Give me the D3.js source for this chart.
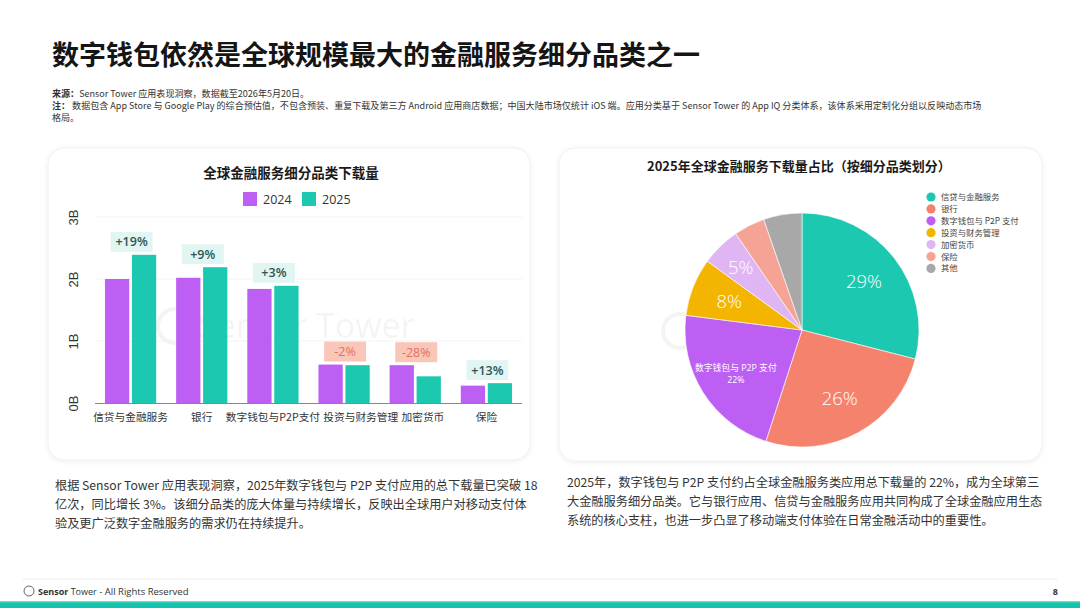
<!DOCTYPE html>
<html>
<head>
<meta charset="utf-8">
<script src="https://cdn.jsdelivr.net/npm/d3@7"></script>
<style>
  html, body { margin: 0; padding: 0; background: #fff; }
  svg { display: block; font-family: "Open Sans", "Noto Sans CJK SC", sans-serif; }
</style>
</head>
<body>
<svg id="page" width="1080" height="608"></svg>
<script>
// ---- data ----
const categories = ['信贷与金融服务', '银行', '数字钱包与P2P支付', '投资与财务管理', '加密货币', '保险'];
const years = ['2024', '2025'];
const downloads2024 = [2.00, 2.02, 1.84, 0.62, 0.61, 0.28];   // billions
const downloads2025 = [2.39, 2.19, 1.89, 0.61, 0.43, 0.32];
const changeLabels = ['+19%', '+9%', '+3%', '-2%', '-28%', '+13%'];
const yTicks = [0, 1, 2, 3];

const pieCategories = ['信贷与金融服务', '银行', '数字钱包与 P2P 支付', '投资与财务管理', '加密货币', '保险', '其他'];
const pieShares = [29, 26, 22, 8, 5.4, 4.3, 5.3];
const pieLabels = ['29%', '26%', '22%', '8%', '5%', '', ''];

const leftText = [
  '根据 Sensor Tower 应用表现洞察，2025年数字钱包与 P2P 支付应用的总下载量已突破 18',
  '亿次，同比增长 3%。该细分品类的庞大体量与持续增长，反映出全球用户对移动支付体',
  '验及更广泛数字金融服务的需求仍在持续提升。'
];
const rightText = [
  '2025年，数字钱包与 P2P 支付约占全球金融服务类应用总下载量的 22%，成为全球第三',
  '大金融服务细分品类。它与银行应用、信贷与金融服务应用共同构成了全球金融应用生态',
  '系统的核心支柱，也进一步凸显了移动端支付体验在日常金融活动中的重要性。'
];

const purple = '#bd5ff3', teal = '#1cc8b0';
const pieColors = [teal, '#f5826d', purple, '#f3b500', '#dfb6f3', '#f4a394', '#a8a8a8'];

const svg = d3.select('#page');

// shadow for cards
const defs = svg.append('defs');
const f = defs.append('filter').attr('id', 'shadow').attr('x', '-10%').attr('y', '-10%').attr('width', '120%').attr('height', '120%');
f.append('feDropShadow').attr('dx', 0).attr('dy', 1).attr('stdDeviation', 2.5).attr('flood-color', '#000').attr('flood-opacity', 0.07);

// ---- header ----
svg.append('text').attr('x', 52).attr('y', 65)
  .attr('font-size', 27).attr('font-weight', 700).attr('fill', '#151515')
  .attr('font-family', '"Noto Sans CJK SC", sans-serif')
  .text('数字钱包依然是全球规模最大的金融服务细分品类之一');

const src = svg.append('g').attr('font-size', 9.05).attr('fill', '#333')
  .attr('font-family', '"Noto Sans CJK SC", sans-serif');
let t = src.append('text').attr('x', 52).attr('y', 97);
t.append('tspan').attr('font-weight', 700).text('来源：');
t.append('tspan').text('Sensor Tower 应用表现洞察，数据截至2026年5月20日。');
t = src.append('text').attr('x', 52).attr('y', 109);
t.append('tspan').attr('font-weight', 700).text('注：');
t.append('tspan').text(' 数据包含 App Store 与 Google Play 的综合预估值，不包含预装、重复下载及第三方 Android 应用商店数据；中国大陆市场仅统计 iOS 端。应用分类基于 Sensor Tower 的 App IQ 分类体系，该体系采用定制化分组以反映动态市场');
src.append('text').attr('x', 52).attr('y', 121).text('格局。');

// ---- cards ----
svg.append('rect').attr('x', 48).attr('y', 148).attr('width', 482).attr('height', 312).attr('rx', 16)
  .attr('fill', '#fff').attr('stroke', '#efefef').attr('filter', 'url(#shadow)');
svg.append('rect').attr('x', 559).attr('y', 148).attr('width', 483).attr('height', 313).attr('rx', 16)
  .attr('fill', '#fff').attr('stroke', '#efefef').attr('filter', 'url(#shadow)');

// watermarks
function watermark(cx, cy) {
  const g = svg.append('g').attr('opacity', 0.04);
  g.append('circle').attr('cx', cx - 95).attr('cy', cy - 4).attr('r', 17)
    .attr('fill', 'none').attr('stroke', '#000').attr('stroke-width', 4);
  g.append('text').attr('x', cx - 72).attr('y', cy + 8).attr('font-size', 34).attr('fill', '#000')
    .text('Sensor Tower');
}
watermark(270, 330);
watermark(775, 335);

// ---- bar chart ----
svg.append('text').attr('x', 291).attr('y', 178).attr('text-anchor', 'middle')
  .attr('font-size', 13.5).attr('font-weight', 700).attr('fill', '#1a1a1a')
  .attr('font-family', '"Noto Sans CJK SC", sans-serif')
  .text('全球金融服务细分品类下载量');

const legend = svg.append('g');
[purple, teal].forEach((c, i) => {
  const lx = 243 + i * 59;
  legend.append('rect').attr('x', lx).attr('y', 192).attr('width', 14).attr('height', 14).attr('fill', c);
  legend.append('text').attr('x', lx + 20).attr('y', 204).attr('font-size', 12.5).attr('fill', '#333').text(years[i]);
});

const x0 = d3.scaleBand().domain(categories).range([95, 522]).paddingInner(0.28).paddingOuter(0.14);
const x1 = d3.scaleBand().domain(years).range([0, x0.bandwidth()]).paddingInner(0.1);
const y = d3.scaleLinear().domain([0, 3]).range([403, 217]);

// gridlines
svg.append('g').selectAll('line').data(yTicks.slice(1)).join('line')
  .attr('x1', 95).attr('x2', 522).attr('y1', d => y(d)).attr('y2', d => y(d))
  .attr('stroke', '#f3f3f3');

const yAxis = svg.append('g').attr('transform', 'translate(95,0)')
  .call(d3.axisLeft(y).tickValues(yTicks).tickSize(0).tickFormat(d => d + 'B'));
yAxis.select('.domain').remove();
yAxis.selectAll('text')
  .attr('font-size', 13).attr('fill', '#333')
  .attr('x', 0).attr('y', 0).attr('dy', 0)
  .attr('text-anchor', 'middle')
  .attr('transform', 'translate(-17,0) rotate(-90)');

const rows = categories.map((c, i) => ({ cat: c, vals: [downloads2024[i], downloads2025[i]], change: changeLabels[i] }));

const groups = svg.append('g').selectAll('g').data(rows).join('g')
  .attr('transform', d => `translate(${x0(d.cat)},0)`);
groups.selectAll('rect').data(d => d.vals.map((v, j) => ({ year: years[j], v })))
  .join('rect')
  .attr('x', d => x1(d.year)).attr('width', x1.bandwidth())
  .attr('y', d => y(d.v)).attr('height', d => y(0) - y(d.v))
  .attr('fill', d => d.year === '2024' ? purple : teal);

// change badges
groups.each(function(d) {
  const g = d3.select(this);
  const neg = d.change.startsWith('-');
  const cx = x0.bandwidth() / 2 + 1;
  const bottom = y(d3.max(d.vals)) - 3;
  g.append('rect').attr('x', cx - 21).attr('y', bottom - 20).attr('width', 42).attr('height', 20)
    .attr('fill', neg ? '#f9c7ba' : '#e1f6f3');
  g.append('text').attr('x', cx).attr('y', bottom - 5.5).attr('text-anchor', 'middle')
    .attr('font-size', 12.5).attr('font-weight', neg ? 400 : 600)
    .attr('fill', neg ? '#e3705c' : '#2f5552').text(d.change);
});

// x axis
const xAxis = svg.append('g').attr('transform', `translate(0,${y(0)})`)
  .call(d3.axisBottom(x0).tickSize(0).tickPadding(10));
xAxis.select('.domain').attr('stroke', '#888').attr('d', 'M95,0.5H522');
xAxis.selectAll('text').attr('font-size', 10.7).attr('fill', '#333')
  .attr('font-family', '"Noto Sans CJK SC", sans-serif');
// nudge labels right where they would collide with the previous one
let prevRight = -Infinity;
xAxis.selectAll('.tick text').each(function() {
  const b = this.getBBox();
  const tick = this.parentNode.transform.baseVal.consolidate().matrix.e;
  const left = tick + b.x;
  const shift = Math.max(0, prevRight + 3 - left);
  d3.select(this).attr('x', shift);
  prevRight = left + shift + b.width;
});

// ---- pie chart ----
svg.append('text').attr('x', 647).attr('y', 171)
  .attr('font-size', 13).attr('font-weight', 700).attr('fill', '#1a1a1a')
  .attr('font-family', '"Noto Sans CJK SC", sans-serif')
  .text('2025年全球金融服务下载量占比（按细分品类划分）');

const pieR = 117;
const pieG = svg.append('g').attr('transform', 'translate(802,330)');
const pie = d3.pie().sort(null).value(d => d.v);
const arcs = pie(pieCategories.map((c, i) => ({ c, v: pieShares[i], color: pieColors[i], label: pieLabels[i] })));
const arc = d3.arc().innerRadius(0).outerRadius(pieR);

pieG.selectAll('path').data(arcs).join('path')
  .attr('d', arc).attr('fill', d => d.data.color)
  .attr('stroke', '#fff').attr('stroke-width', 0.6);

const labelArc = d3.arc().innerRadius(pieR * 0.67).outerRadius(pieR * 0.67);
const smallArc = d3.arc().innerRadius(pieR * 0.75).outerRadius(pieR * 0.75);
arcs.filter(d => d.data.label).forEach(d => {
  const [lx, ly] = (d.data.v < 6 ? smallArc : labelArc).centroid(d);
  if (d.data.c.startsWith('数字钱包')) {
    pieG.append('text').attr('x', lx).attr('y', ly - 1).attr('text-anchor', 'middle')
      .attr('font-size', 8.8).attr('fill', '#fff').text(d.data.c);
    pieG.append('text').attr('x', lx).attr('y', ly + 11).attr('text-anchor', 'middle')
      .attr('font-size', 8.8).attr('fill', '#fff').text(d.data.label);
  } else {
    pieG.append('text').attr('x', lx).attr('y', ly + 6.5).attr('text-anchor', 'middle')
      .attr('font-size', 18.5).attr('font-weight', 300).attr('fill', '#fff')
      .text(d.data.label);
  }
});

const pl = svg.append('g').attr('font-family', '"Noto Sans CJK SC", sans-serif');
pieCategories.forEach((c, i) => {
  const ly = 197 + i * 11.9;
  pl.append('circle').attr('cx', 931).attr('cy', ly).attr('r', 4.6).attr('fill', pieColors[i]);
  pl.append('text').attr('x', 941).attr('y', ly + 3).attr('font-size', 8.4).attr('fill', '#444').text(c);
});

// ---- commentary ----
const body = svg.append('g').attr('font-size', 12.2).attr('fill', '#333')
  .attr('font-family', '"Noto Sans CJK SC", sans-serif');
leftText.forEach((s, i) => body.append('text').attr('x', 55).attr('y', 490 + i * 19).text(s));
rightText.forEach((s, i) => body.append('text').attr('x', 567).attr('y', 487 + i * 19).text(s));

// ---- footer ----
svg.append('line').attr('x1', 22).attr('x2', 1058).attr('y1', 579).attr('y2', 579).attr('stroke', '#f0f0f0');
svg.append('circle').attr('cx', 29).attr('cy', 591).attr('r', 5).attr('fill', 'none').attr('stroke', '#555').attr('stroke-width', 0.9);
const ft = svg.append('text').attr('x', 38).attr('y', 594.5).attr('font-size', 9).attr('fill', '#333');
ft.append('tspan').attr('font-weight', 700).text('Sensor');
ft.append('tspan').text(' Tower');
ft.append('tspan').attr('font-size', 9.5).text(' - All Rights Reserved');
svg.append('text').attr('x', 1058).attr('y', 594.5).attr('text-anchor', 'end').attr('font-size', 9).attr('font-weight', 700).attr('fill', '#333').text('8');

const grad = defs.append('linearGradient').attr('id', 'band').attr('x1', 0).attr('y1', 0).attr('x2', 0).attr('y2', 1);
grad.append('stop').attr('offset', 0).attr('stop-color', '#7fe3d6');
grad.append('stop').attr('offset', 0.3).attr('stop-color', '#14c4ad');
grad.append('stop').attr('offset', 1).attr('stop-color', '#12c2ab');
svg.append('rect').attr('x', 0).attr('y', 601).attr('width', 1080).attr('height', 7).attr('fill', 'url(#band)');
</script>
</body>
</html>
